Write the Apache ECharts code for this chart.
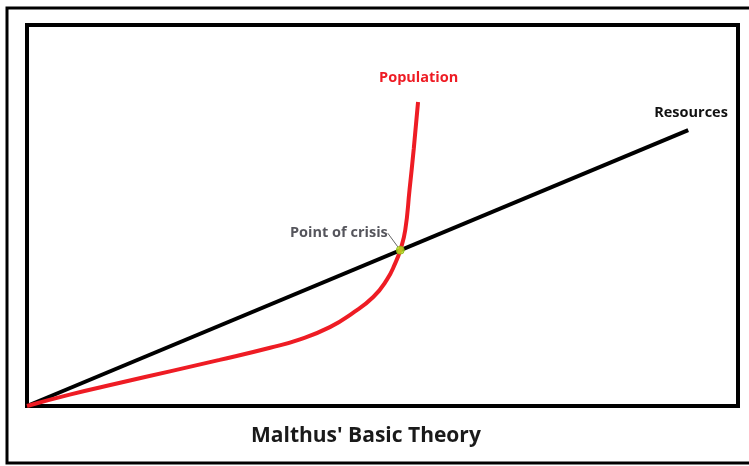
<!DOCTYPE html>
<html>
<head>
<meta charset="utf-8">
<script src="https://cdn.jsdelivr.net/npm/echarts@6/dist/echarts.min.js"></script>
<style>
  html, body { margin: 0; padding: 0; background: #fff; }
  #chart { width: 749px; height: 466px; }
</style>
</head>
<body>
<div id="chart"></div>
<script>
// values on a 0-100 scale for both axes
const resourcesX = [0, 93.0];
const resourcesY = [0, 72.4];
const populationX = [0, 6.0, 13.1, 20.1, 27.1, 34.2, 38.4, 42.6, 45.8, 48.7, 50.6, 51.8, 52.5, 53.2, 53.8, 54.4, 55.0];
const populationY = [0, 3.0, 6.1, 9.1, 12.1, 15.3, 17.5, 20.7, 24.4, 28.6, 33.1, 37.5, 40.9, 46.2, 56.7, 67.6, 79.8];
const crisisPoint = [52.5, 40.9];

const chart = echarts.init(document.getElementById('chart'));

const pair = (xs, ys) => xs.map((x, i) => [x, ys[i]]);

const option = {
    backgroundColor: '#fff',
    animation: false,
    textStyle: { fontFamily: 'Open Sans' },
    title: {
        text: "Malthus' Basic Theory",
        left: 246,
        top: 421,
        textStyle: { fontSize: 21, fontWeight: 'bold', color: '#1a1a1a', fontFamily: 'Open Sans' }
    },
    graphic: [{
        type: 'rect',
        shape: { x: 7, y: 8, width: 760, height: 455 },
        style: { fill: 'none', stroke: '#000', lineWidth: 3 },
        silent: true
    }],
    grid: {
        left: 27, right: 11, top: 25, bottom: 60,
        show: true,
        borderColor: '#000',
        borderWidth: 4
    },
    xAxis: { type: 'value', min: 0, max: 100, show: false },
    yAxis: { type: 'value', min: 0, max: 100, show: false },
    series: [
        {
            name: 'Resources',
            type: 'line',
            data: pair(resourcesX, resourcesY),
            showSymbol: false,
            lineStyle: { color: '#000', width: 4 },
            endLabel: {
                show: true, formatter: 'Resources', offset: [-42, -17],
                fontSize: 14.5, fontWeight: 'bold', color: '#111'
            },
            z: 2
        },
        {
            name: 'Population',
            type: 'line',
            data: pair(populationX, populationY),
            smooth: 0.5,
            showSymbol: false,
            lineStyle: { color: '#ee1c24', width: 4 },
            endLabel: {
                show: true, formatter: 'Population', offset: [-47, -24],
                fontSize: 14.5, fontWeight: 'bold', color: '#ee1c24'
            },
            z: 3
        },
        {
            name: 'Point of crisis',
            type: 'scatter',
            data: [crisisPoint],
            symbolSize: 8,
            itemStyle: { color: '#b5e61d', borderColor: '#8fb019', borderWidth: 1 },
            label: {
                show: true,
                formatter: 'Point of crisis',
                position: 'left',
                fontSize: 14.5,
                fontWeight: 'bold',
                color: '#2b2b33'
            },
            labelLayout: { dx: -3, dy: -17 },
            labelLine: { show: true, lineStyle: { color: '#666', width: 1 } },
            z: 4
        }
    ]
};

chart.setOption(option);
</script>
</body>
</html>
